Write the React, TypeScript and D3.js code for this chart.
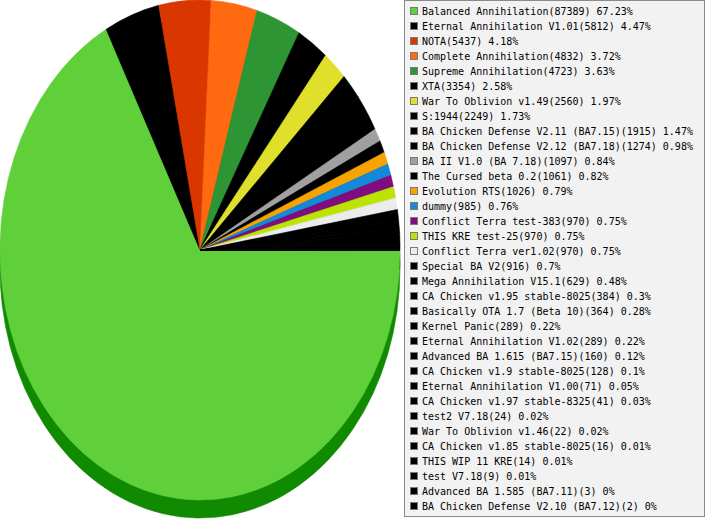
import { useEffect, useRef } from 'react';
import { arc, hsl, pie, select } from 'd3';

const names = [
  'Balanced Annihilation',
  'Eternal Annihilation V1.01',
  'NOTA',
  'Complete Annihilation',
  'Supreme Annihilation',
  'XTA',
  'War To Oblivion v1.49',
  'S:1944',
  'BA Chicken Defense V2.11 (BA7.15)',
  'BA Chicken Defense V2.12 (BA7.18)',
  'BA II V1.0 (BA 7.18)',
  'The Cursed beta 0.2',
  'Evolution RTS',
  'dummy',
  'Conflict Terra test-383',
  'THIS KRE test-25',
  'Conflict Terra ver1.02',
  'Special BA V2',
  'Mega Annihilation V15.1',
  'CA Chicken v1.95 stable-8025',
  'Basically OTA 1.7 (Beta 10)',
  'Kernel Panic',
  'Eternal Annihilation V1.02',
  'Advanced BA 1.615 (BA7.15)',
  'CA Chicken v1.9 stable-8025',
  'Eternal Annihilation V1.00',
  'CA Chicken v1.97 stable-8325',
  'test2 V7.18',
  'War To Oblivion v1.46',
  'CA Chicken v1.85 stable-8025',
  'THIS WIP 11 KRE',
  'test V7.18',
  'Advanced BA 1.585 (BA7.11)',
  'BA Chicken Defense V2.10 (BA7.12)',
];

const values = [
  87389, 5812, 5437, 4832, 4723, 3354, 2560, 2249, 1915, 1274, 1097, 1061, 1026, 985, 970, 970,
  970, 916, 629, 384, 364, 289, 289, 160, 128, 71, 41, 24, 22, 16, 14, 9, 3, 2,
];

const colors = [
  '#5fcf3a', '#000000', '#d93600', '#ff6a10', '#2d9533', '#000000', '#e0e02c', '#000000',
  '#000000', '#000000', '#a0a0a0', '#000000', '#f7a300', '#1589d9', '#800c80', '#bbe400',
  '#ececec', '#000000', '#000000', '#000000', '#000000', '#000000', '#000000', '#000000',
  '#000000', '#000000', '#000000', '#000000', '#000000', '#000000', '#000000', '#000000',
  '#000000', '#000000',
];

// side of the 3d pie: darker, more saturated
function sideColor(c: string) {
  const h = hsl(c);
  if (!(h.l > 0)) return c;
  h.h = h.h + 8;
  h.s = 1;
  h.l = h.l * 0.52;
  return h.formatHex();
}

export default function App() {
  const svgRef = useRef<SVGSVGElement>(null);

  useEffect(() => {
    const width = 707;
    const height = 520;
    const cx = 200;
    const cy = 250;
    const rx = 200;
    const ry = 250;
    const depth = 18;

    const total = values.reduce((a, b) => a + b, 0);

    const svg = select(svgRef.current);
    svg.selectAll('*').remove();
    svg.attr('width', width).attr('height', height);

    svg.append('rect').attr('width', width).attr('height', height).attr('fill', '#ffffff');

    // start at 3 o'clock, go clockwise
    const slices = pie<number>()
      .sort(null)
      .value((d) => d)
      .startAngle(Math.PI / 2)
      .endAngle(Math.PI / 2 + 2 * Math.PI)(values);

    const unitArc = arc<any>().innerRadius(0).outerRadius(1);

    // 3d depth
    svg
      .append('g')
      .attr('transform', `translate(${cx},${cy + depth}) scale(${rx},${ry})`)
      .selectAll('path')
      .data(slices)
      .enter()
      .append('path')
      .attr('d', unitArc)
      .attr('fill', (d, i) => sideColor(colors[i]))
      .attr('stroke', (d, i) => sideColor(colors[i]))
      .attr('stroke-width', 0.6)
      .attr('vector-effect', 'non-scaling-stroke');

    // top face
    svg
      .append('g')
      .attr('transform', `translate(${cx},${cy}) scale(${rx},${ry})`)
      .selectAll('path')
      .data(slices)
      .enter()
      .append('path')
      .attr('d', unitArc)
      .attr('fill', (d, i) => colors[i])
      .attr('stroke', (d, i) => colors[i])
      .attr('stroke-width', 0.6)
      .attr('vector-effect', 'non-scaling-stroke');

    // legend
    const legend = svg.append('g');
    legend
      .append('rect')
      .attr('x', 404.5)
      .attr('y', 0.5)
      .attr('width', 300)
      .attr('height', 516)
      .attr('fill', '#f2f2f2')
      .attr('stroke', '#8a8a8a');

    const item = legend
      .selectAll('g.item')
      .data(names)
      .enter()
      .append('g')
      .attr('class', 'item')
      .attr('transform', (d, i) => `translate(0, ${i * 15})`);

    item
      .append('rect')
      .attr('x', 410.5)
      .attr('y', 7.5)
      .attr('width', 7)
      .attr('height', 7)
      .attr('fill', (d, i) => colors[i])
      .attr('stroke', '#7a7a7a');

    item
      .append('text')
      .attr('x', 422)
      .attr('y', 15)
      .attr('font-family', '"DejaVu Sans Mono", monospace')
      .attr('font-size', 10)
      .attr('fill', '#000000')
      .text((d, i) => `${d}(${values[i]}) ${+((values[i] / total) * 100).toFixed(2)}%`);
  }, []);

  return (
    <div style={{ position: 'fixed', left: 0, top: 0 }}>
      <svg ref={svgRef} style={{ display: 'block' }}></svg>
    </div>
  );
}
